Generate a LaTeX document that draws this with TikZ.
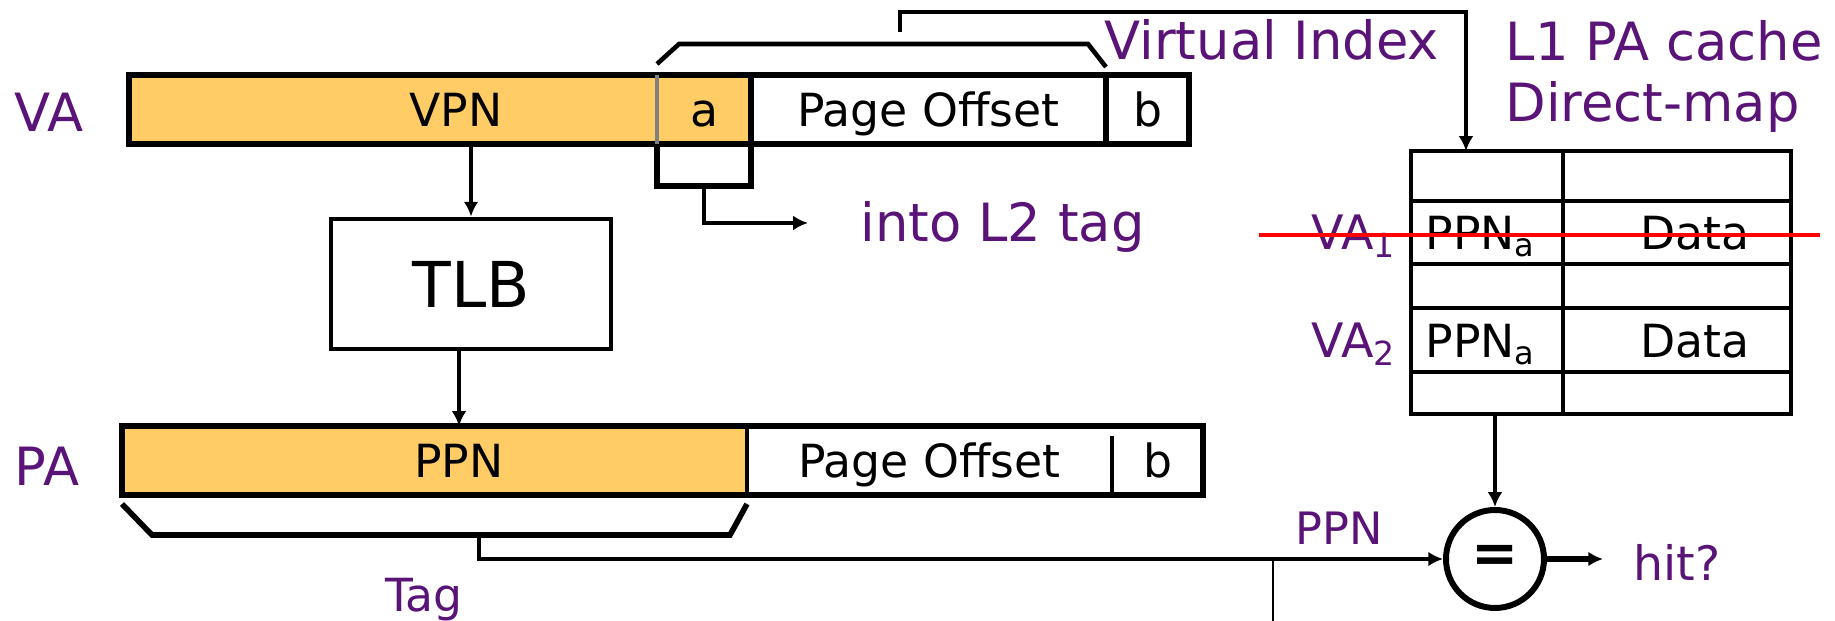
\documentclass[tikz,border=0pt]{standalone}
\usepackage{fontspec}
\setmainfont{DejaVu Sans}
\usetikzlibrary{arrows.meta,calc}
\definecolor{notepurple}{RGB}{90,20,120}
\definecolor{fieldorange}{RGB}{255,204,102}

\begin{document}
\begin{tikzpicture}[
    >={Latex[length=4.2pt,width=4.2pt]},
    field/.style={inner sep=0pt, outer sep=0pt, minimum height=0.69cm,
        font=\fontsize{13}{15}\selectfont, text height=9.5pt, text depth=0pt},
    bar/.style={line width=1.6pt},
    conn/.style={line width=1.3pt},
    note/.style={inner sep=0pt, text=notepurple, font=\fontsize{15}{18}\selectfont},
    word/.style={inner sep=0pt, font=\fontsize{13}{15}\selectfont},
    cell/.style={draw, line width=1.4pt, inner sep=0pt, outer sep=0pt}
]
    \useasboundingbox (0,0) rectangle (18.35,6.21);

    % Virtual address fields
    \node[field, fill=fieldorange, minimum width=5.28cm] (vpn) at (3.93,5.115) {};
    \node[field, fill=fieldorange, minimum width=0.94cm] (a) at (7.04,5.115) {a};
    \node[field, minimum width=3.55cm] (voff) at (9.285,5.115) {Page Offset};
    \node[field, minimum width=0.83cm] (vb) at (11.475,5.115) {b};
    \node[field] (vpntxt) at (4.56,5.115) {VPN};
    \draw[bar] (vpn.north west) rectangle (vb.south east);
    \draw[bar] (a.north east) -- (a.south east);
    \draw[bar] (vb.north west) -- (vb.south west);
    \draw[gray, line width=1pt] (a.north west) -- (a.south west);
    \node[note, anchor=base west] (valbl) at (0.14,4.89) {VA};

    % TLB
    \node[draw, line width=1.4pt, minimum width=2.8cm, minimum height=1.3cm,
        inner sep=0pt, font=\fontsize{18}{21}\selectfont] (tlb) at (4.71,3.37) {TLB};

    % Physical address fields
    \node[field, fill=fieldorange, minimum width=6.25cm] (ppn) at (4.345,1.605) {};
    \node[field, minimum width=3.65cm] (poff) at (9.295,1.605) {Page Offset};
    \node[field, minimum width=0.91cm] (pb) at (11.575,1.605) {b};
    \node[field] (ppntxt) at (4.59,1.605) {PPN};
    \draw[bar] (ppn.north west) rectangle (pb.south east);
    \draw[line width=1pt] (poff.north west) -- (poff.south west);
    \draw[line width=1pt] ([yshift=-1mm]pb.north west) -- (pb.south west);
    \node[note, anchor=base west] (palbl) at (0.14,1.35) {PA};

    % translation
    \draw[conn,->] (tlb.north |- vpn.south) -- (tlb.north);
    \draw[conn,->] ([xshift=-1.2mm]tlb.south) -- ([xshift=-1.2mm]tlb.south |- ppn.north);

    % bits a also go into the L2 tag
    \coordinate (abot) at ($(a.south)+(0,-0.42)$);
    \coordinate (l2end) at (8.08,3.98);
    \draw[bar] (a.south west) |- (abot) -| (a.south east);
    \draw[conn,->] (abot) |- (l2end);
    \node[note, anchor=base west] (l2) at (8.60,3.79) {into L2 tag};

    % virtual index
    \draw[conn] ([yshift=1.1mm]a.north west) -- (6.79,5.77) -- (10.88,5.77)
        -- ([yshift=0.8mm]vb.north west);
    \node[note, anchor=base west] (vidx) at (11.04,5.61) {Virtual Index};

    % cache rows: tag column and data column
    \foreach \r/\t/\b in {1/4.70/4.20, 2/4.20/3.57, 3/3.57/3.13, 4/3.13/2.49, 5/2.49/2.07} {
        \pgfmathsetmacro\rowy{(\t+\b)/2}
        \pgfmathsetmacro\rowh{\t-\b}
        \node[cell, minimum width=1.52cm, minimum height=\rowh cm] (tag\r) at (14.87,\rowy) {};
        \node[cell, minimum width=2.28cm, minimum height=\rowh cm] (dat\r) at (16.77,\rowy) {};
    }
    \node[word, anchor=base west] (ppna1) at ($(tag2.west)+(0.14,-0.175)$) {PPN\textsubscript{a}};
    \node[word, anchor=base] (data1) at ($(dat2.center)+(0.18,-0.175)$) {Data};
    \node[word, anchor=base west] (ppna2) at ($(tag4.west)+(0.14,-0.18)$) {PPN\textsubscript{a}};
    \node[word, anchor=base] (data2) at ($(dat4.center)+(0.18,-0.18)$) {Data};
    \node[note, anchor=base east, font=\fontsize{13.5}{16}\selectfont] (va1)
        at ($(tag2.west)+(-0.14,-0.175)$) {VA\textsubscript{1}};
    \node[note, anchor=base east, font=\fontsize{13.5}{16}\selectfont] (va2)
        at ($(tag4.west)+(-0.14,-0.18)$) {VA\textsubscript{2}};
    \node[note, anchor=base west] (l1a) at (15.05,5.60) {L1 PA cache};
    \node[note, anchor=base west] (l1b) at (15.05,4.99) {Direct-map};

    % index into the cache
    \coordinate (vstub) at (9.00,5.89);
    \draw[conn,->] (vstub) -- (9.00,6.09) -| ([xshift=-2.1mm]tag1.north);

    % comparator
    \node[draw, circle, line width=1.7pt, minimum size=0.98cm, inner sep=0pt,
        font=\bfseries\fontsize{16}{18}\selectfont] (eq) at (14.95,0.62) {=};
    \draw[conn,->] (eq.north |- tag5.south) -- (eq.north);

    % tag taken from the PA
    \coordinate (tagmid) at (4.79,0.86);
    \draw[bar] ([yshift=-0.9mm]ppn.south west) -- (1.52,0.86) -- (7.30,0.86)
        -- ([yshift=-0.9mm]ppn.south east);
    \draw[conn,->] (tagmid) |- (eq.west);
    \node[note, anchor=base, font=\fontsize{13}{16}\selectfont] (taglbl) at (4.24,0.09) {Tag};
    \node[note, anchor=base, font=\fontsize{12.7}{15}\selectfont] (ppnlbl) at (13.39,0.76) {PPN};
    \coordinate (drop) at (12.73,0);
    \draw[line width=0.8pt] (drop) -- (drop |- eq.west);

    % result
    \node[note, anchor=base west, font=\fontsize{13.5}{16}\selectfont] (hit) at (16.33,0.40) {hit?};
    \draw[line width=1.6pt,->] (eq.east) -- ([xshift=-3mm]hit.west |- eq.east);

    % VA1 entry struck out
    \draw[red, line width=1.3pt] (12.59,3.86) -- (18.20,3.86);
\end{tikzpicture}
\end{document}
